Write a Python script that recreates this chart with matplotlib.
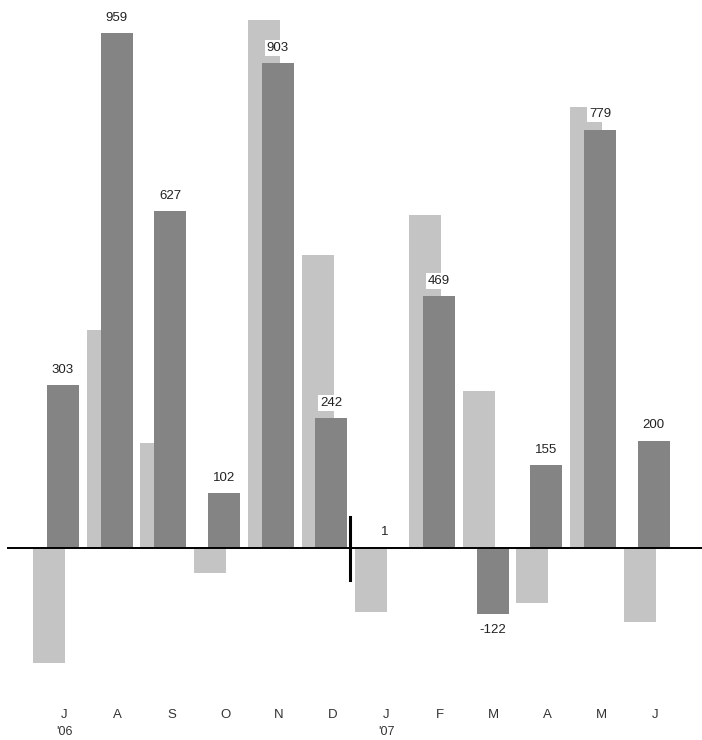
import matplotlib.pyplot as plt
import numpy as np

# 月份與數值
months = ['J', 'A', 'S', 'O', 'N', 'D', 'J', 'F', 'M', 'A', 'M', 'J']
year_marks = {0: "'06", 6: "'07"}
current = [303, 959, 627, 102, 903, 242, 1, 469, -122, 155, 779, 200]
previous = [-214, 406, 196, -47, 983, 546, -119, 620, 292, -102, 821, -138]

dark = '#848484'
light = '#c4c4c4'

plt.rcParams['font.family'] = ['Liberation Sans', 'DejaVu Sans']

fig = plt.figure(figsize=(7.02, 7.40), dpi=100)
ax = fig.add_axes([0, 0, 1, 1])
ax.set_xlim(-1.173, 11.9)
ax.set_ylim(-357.5, 1020.5)
ax.axis('off')

x = np.arange(len(months))
w = 0.596
# 淺色柱 (前一期) 在後面，往左偏移
ax.bar(x - 0.26, previous, width=w, color=light, zorder=1)
ax.bar(x, current, width=w, color=dark, zorder=2)

# 零線
ax.axhline(0, xmin=8 / 702, xmax=1, color='black', lw=1.4, zorder=3)
# 年份分隔線
ax.plot([5.345, 5.345], [58, -60], color='black', lw=2.2, zorder=4)

# 數值標籤 (白底)
for xi, v in zip(x, current):
    off = 11 if v >= 0 else -11.5
    ax.annotate(str(v), (xi, v), xytext=(0, off), textcoords='offset points',
                ha='center', va='center', fontsize=9.5, color='#222222', zorder=5,
                bbox=dict(boxstyle='square,pad=0.15', fc='white', ec='none'))

# 月份標籤
trans = ax.get_xaxis_transform()
for xi, m in zip(x, months):
    ax.text(xi + 0.02, 0.034, m, transform=trans, ha='center', va='center',
            fontsize=9.5, color='#333333')
for i, yr in year_marks.items():
    ax.text(i + 0.02, 0.011, yr, transform=trans, ha='center', va='center',
            fontsize=9, color='#333333')

fig.savefig('out.png', dpi=100)
